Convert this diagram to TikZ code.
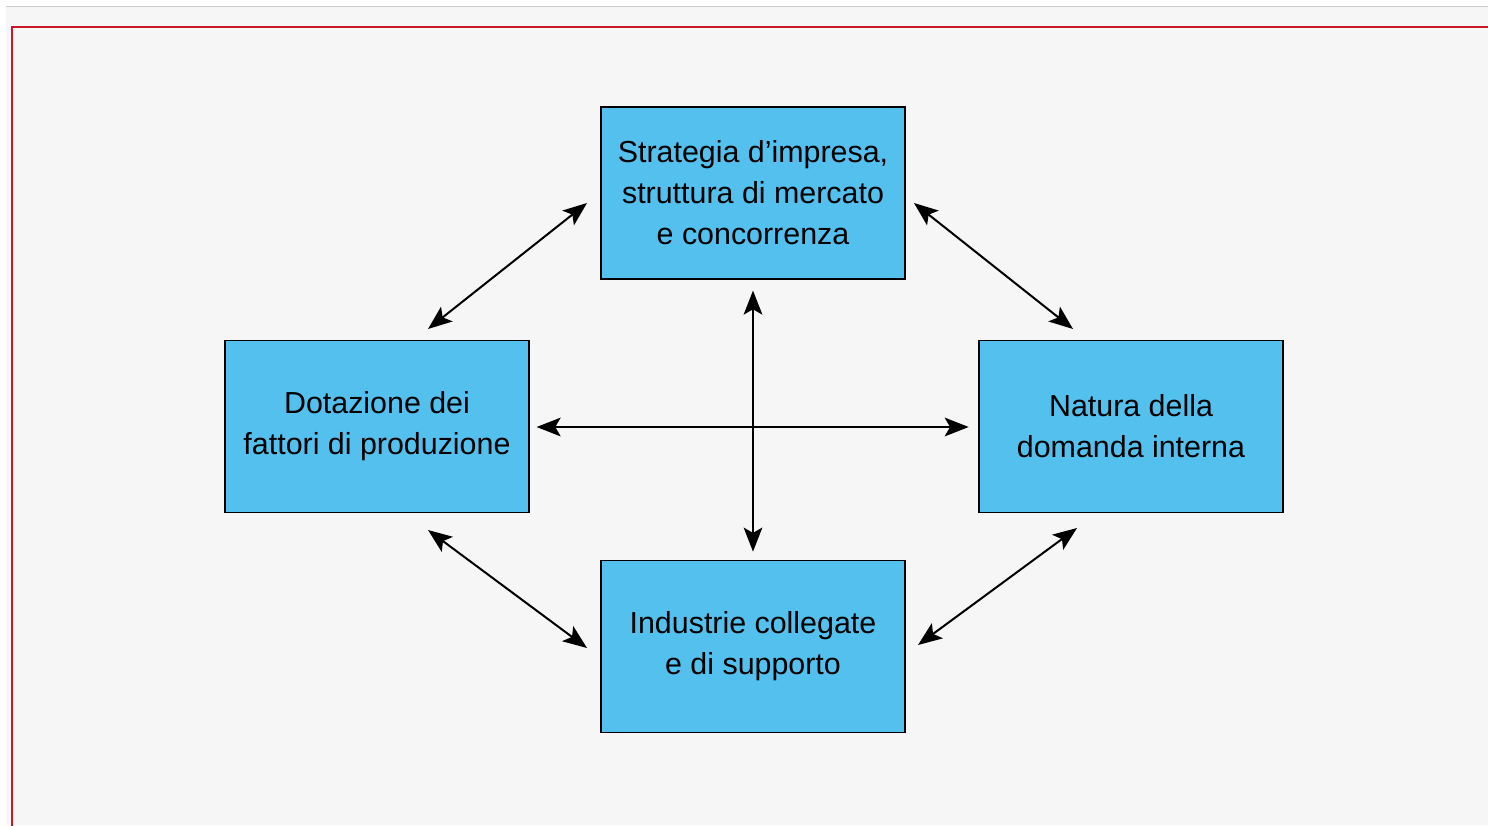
\documentclass[tikz,border=0pt]{standalone}
\usepackage{fontspec}
\setmainfont{Liberation Sans}
\usetikzlibrary{arrows.meta}
\definecolor{boxblue}{RGB}{83,192,238}
\definecolor{bgray}{RGB}{246,246,246}
\definecolor{framered}{RGB}{200,22,34}
\definecolor{topline}{RGB}{204,204,204}
\tikzset{
  factor/.style={draw=black, line width=1.4pt, fill=boxblue, rectangle,
    minimum width=228pt, minimum height=129pt, align=center,
    font=\fontsize{22.8pt}{30.75pt}\selectfont, inner sep=0pt},
  link/.style={line width=1.5pt, {Stealth[length=18pt,width=14pt,inset=4pt]}-{Stealth[length=18pt,width=14pt,inset=4pt]}}
}
\begin{document}
\begin{tikzpicture}[x=0.75pt,y=-0.75pt]
\useasboundingbox (0,0) rectangle (1488,825);
\fill[white] (0,0) rectangle (1488,825);
\fill[bgray] (6,7) rectangle (1488,825);
\draw[topline, line width=1pt] (6,6.5) -- (1488,6.5);
\draw[framered, line width=2.2pt] (12,840) -- (12,27) -- (1500,27);

\node[factor] (top) at (753,193) {Strategia d'impresa,\\struttura di mercato\\e concorrenza};
\node[factor] (left) at (377,426.5) {Dotazione dei\\fattori di produzione};
\node[factor] (right) at (1131,426.5) {Natura della\\domanda interna};
\node[factor] (bottom) at (753,646.5) {Industrie collegate\\e di supporto};

\coordinate (tlA) at (428,329);
\coordinate (tlB) at (587,203);
\coordinate (trA) at (914,203);
\coordinate (trB) at (1073,329);
\coordinate (blA) at (428,530);
\coordinate (blB) at (587,648);
\coordinate (brA) at (918,645);
\coordinate (brB) at (1077,528);

\draw[link] (tlA) -- (tlB);
\draw[link] (trA) -- (trB);
\draw[link] (blA) -- (blB);
\draw[link] (brA) -- (brB);
\draw[link, shorten <=8pt, shorten >=6pt] (top.south) -- (bottom.north);
\draw[link, shorten <=5pt, shorten >=7pt] (left.east |- 0,427) -- (right.west |- 0,427);
\end{tikzpicture}
\end{document}
